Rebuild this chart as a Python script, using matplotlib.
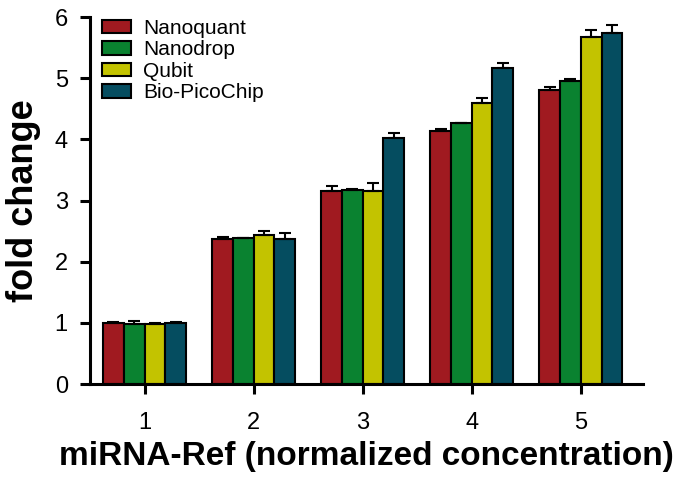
import numpy as np
import matplotlib
matplotlib.use("Agg")
import matplotlib.pyplot as plt

plt.rcParams["font.family"] = ["Liberation Sans", "DejaVu Sans"]

concentrations = [1, 2, 3, 4, 5]
methods = ["Nanoquant", "Nanodrop", "Qubit", "Bio-PicoChip"]
colors = ["#A01A20", "#0A8230", "#C3C300", "#054D60"]

nanoquant = [0.99, 2.37, 3.16, 4.14, 4.80]
nanodrop = [0.98, 2.38, 3.18, 4.26, 4.96]
qubit = [0.98, 2.43, 3.16, 4.59, 5.67]
picochip = [1.00, 2.37, 4.03, 5.16, 5.74]

nanoquant_err = [0.02, 0.03, 0.07, 0.03, 0.05]
nanodrop_err = [0.05, 0.01, 0.01, 0.01, 0.02]
qubit_err = [0.02, 0.07, 0.13, 0.08, 0.11]
picochip_err = [0.02, 0.10, 0.08, 0.09, 0.13]

values = [nanoquant, nanodrop, qubit, picochip]
errors = [nanoquant_err, nanodrop_err, qubit_err, picochip_err]

fig = plt.figure(figsize=(6.75, 4.82), dpi=100)
ax = fig.add_axes([0.1333, 0.2033, 0.8193, 0.7614])

x = np.array(concentrations, dtype=float)
width = 0.19
for i, (vals, errs) in enumerate(zip(values, errors)):
    pos = x + (i - 1.5) * width
    ax.bar(pos, vals, width, color=colors[i], edgecolor="black",
           linewidth=1.5, label=methods[i], zorder=2)
    ax.errorbar(pos, vals, yerr=[np.zeros(len(errs)), errs], fmt="none",
                ecolor="black", elinewidth=1.5, capsize=4, capthick=1.5,
                zorder=3)

ax.set_xlim(0.5, 5.57)
ax.set_ylim(0, 6)
ax.set_xticks(concentrations)
ax.set_yticks(range(0, 7))

for side in ["top", "right"]:
    ax.spines[side].set_visible(False)
for side in ["left", "bottom"]:
    ax.spines[side].set_linewidth(2.2)

ax.tick_params(axis="both", direction="out", length=7, width=2.2,
               labelsize=17)
ax.tick_params(axis="x", pad=13)
ax.tick_params(axis="y", pad=9)

ax.set_xlabel("miRNA-Ref (normalized concentration)", fontsize=24,
              fontweight="bold", labelpad=5)
ax.set_ylabel("fold change", fontsize=26, fontweight="bold", labelpad=10)

ax.legend(loc="upper left", bbox_to_anchor=(-0.005, 1.035), frameon=False,
          fontsize=15, handlelength=1.4, handleheight=0.62,
          handletextpad=0.6, labelspacing=0.12, borderaxespad=0.3)

fig.savefig("out.png", dpi=100)
